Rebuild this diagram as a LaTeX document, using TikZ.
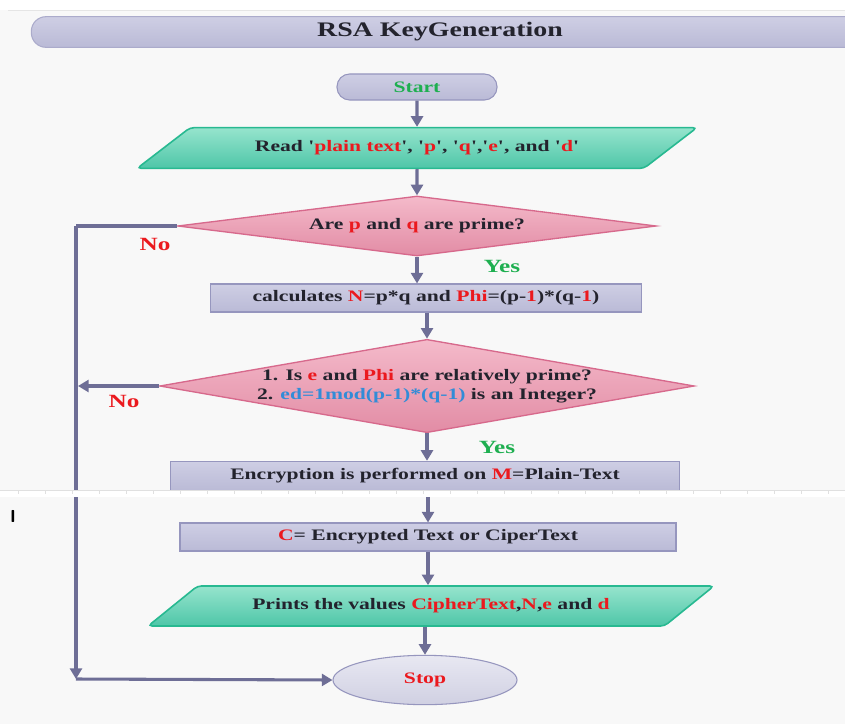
\documentclass[tikz,border=0pt]{standalone}
\usepackage{fontspec}
\setmainfont{Liberation Serif}[FakeStretch=1.35,Ligatures=TeXOff]
\usetikzlibrary{arrows.meta,shapes.geometric}

\definecolor{paper}{RGB}{248,248,248}
\definecolor{flowline}{RGB}{110,110,150}
\definecolor{boxTop}{RGB}{206,206,228}
\definecolor{boxBottom}{RGB}{186,186,214}
\definecolor{boxDraw}{RGB}{150,150,190}
\definecolor{ioTop}{RGB}{150,228,205}
\definecolor{ioBottom}{RGB}{78,198,168}
\definecolor{ioDraw}{RGB}{40,185,145}
\definecolor{decTop}{RGB}{244,186,202}
\definecolor{decBottom}{RGB}{226,140,165}
\definecolor{decDraw}{RGB}{215,105,140}
\definecolor{stopTop}{RGB}{232,232,242}
\definecolor{stopBottom}{RGB}{208,208,226}
\definecolor{txtDark}{RGB}{35,35,45}
\definecolor{txtRed}{RGB}{235,25,30}
\definecolor{txtGreen}{RGB}{30,175,80}
\definecolor{txtBlue}{RGB}{50,140,215}

\newcommand{\rd}[1]{\textcolor{txtRed}{#1}}
\newcommand{\bl}[1]{\textcolor{txtBlue}{#1}}
\newcommand{\boxfont}{\bfseries\fontsize{12}{14}\selectfont}

\tikzset{
  flow/.style={draw=flowline, line width=2.3pt, -{Triangle[length=8pt,width=9pt]}},
  loopline/.style={draw=flowline, line width=2.3pt},
  procbox/.style={rectangle, draw=boxDraw, line width=0.8pt, top color=boxTop, bottom color=boxBottom,
    inner sep=0pt, font=\boxfont, text=txtDark},
  iobox/.style={trapezium, trapezium left angle=21, trapezium right angle=159, trapezium stretches=true,
    draw=ioDraw, line width=1.2pt, top color=ioTop, bottom color=ioBottom, rounded corners=3pt,
    inner sep=0pt, font=\boxfont, text=txtDark},
  decision/.style={diamond, draw=decDraw, line width=1pt, top color=decTop, bottom color=decBottom,
    inner sep=0pt, align=center, font=\boxfont, text=txtDark},
  yesno/.style={font=\bfseries\fontsize{14}{16}\selectfont},
}

\begin{document}
\begin{tikzpicture}[x=0.75pt,y=0.75pt,yscale=-1,xscale=1]
\useasboundingbox (0,0) rectangle (845,724);
%Background
\fill[paper] (0,0) rectangle (845,724);
\fill[white] (0,0) rectangle (845,10);
\draw[black!10] (8,10.5) -- (845,10.5);

%Shape: Title bar
\node[procbox, rounded corners=11pt, minimum width=622pt, minimum height=23pt, draw=boxDraw!80] (title) at (446,32) {};
% Text Node
\node[font=\bfseries\fontsize{15.5}{18}\selectfont, text=txtDark] (titletext) at (440,32) {RSA KeyGeneration};

%Shape: Start
\node[procbox, rounded corners=9.5pt, minimum width=120pt, minimum height=19.5pt, text=txtGreen] (start) at (417,87) {Start};
%Shape: Read input
\node[iobox, minimum width=421pt, minimum height=30.5pt] (read) at (417,148)
  {Read '\rd{plain text}', '\rd{p}', '\rd{q}','\rd{e}', and '\rd{d}'};
%Shape: Prime test
\node[decision, aspect=8, minimum width=359pt, minimum height=45pt] (primes) at (417,226)
  {Are \rd{p} and \rd{q} are prime?};
%Shape: N and Phi
\node[procbox, minimum width=323pt, minimum height=21pt] (calc) at (426,298)
  {calculates \rd{N}=p*q and \rd{Phi}=(p-\rd{1})*(q-\rd{1})};
%Shape: e and d test
\node[decision, aspect=5.7, minimum width=401pt, minimum height=70pt] (keys) at (427,386)
  {1. Is \rd{e} and \rd{Phi} are relatively prime?\\
   2. \bl{ed=1mod(p-1)*(q-1)} is an Integer?};
%Shape: Encryption
\node[procbox, minimum width=382pt, minimum height=22pt] (encrypt) at (425,476)
  {Encryption is performed on \rd{M}=Plain-Text};
%Shape: Cipher
\node[procbox, minimum width=372pt, minimum height=21pt] (cipher) at (428,537)
  {\rd{C}= Encrypted Text or CiperText};
%Shape: Print output
\node[iobox, minimum width=426pt, minimum height=30pt] (prints) at (431,606)
  {Prints the values \rd{CipherText},\rd{N},\rd{e} and \rd{d}};
%Shape: Stop
\node[ellipse, draw=boxDraw, line width=0.8pt, top color=stopTop, bottom color=stopBottom,
  minimum width=138pt, minimum height=37pt, inner sep=0pt, font=\boxfont, text=txtRed] (stop) at (425,680) {Stop};

%Straight Lines
\draw[flow] (start) -- (read);
\draw[flow] (read) -- (primes);
\draw[flow] (primes.south) -- (primes.south |- calc.north);
\draw[flow] (keys.north |- calc.south) -- (keys.north);
\draw[flow] (keys.south) -- (keys.south |- encrypt.north);
\draw[flow] (encrypt.south -| cipher.north) -- (cipher.north);
\draw[flow] (cipher.south) -- (cipher.south |- prints.north);
\draw[flow] (stop.north |- prints.south) -- (stop.north);

%Loop back to Stop
\coordinate (loopTop) at (76,226);
\coordinate (loopBot) at (76,679);
\coordinate (noTip) at (78,386);
\draw[loopline] (primes.west) -- (loopTop);
\draw[flow] (loopTop) -- (loopBot);
\draw[flow] (loopBot) -- (stop.west);
\draw[flow] (keys.west) -- (noTip);

% Text Node
\node[yesno, text=txtRed] (no1) at (155,244) {No};
% Text Node
\node[yesno, text=txtGreen] (yes1) at (502,266) {Yes};
% Text Node
\node[yesno, text=txtRed] (no2) at (124,401) {No};
% Text Node
\node[yesno, text=txtGreen] (yes2) at (497,447) {Yes};

%Seam of the screenshot
\fill[white] (0,489.5) rectangle (845,496.5);
\draw[black!12, line width=0.4pt] (0,490) -- (845,490);
\foreach \x in {18,45,...,845} \draw[black!12, line width=0.4pt] (\x,490) -- (\x,494);
% Text Node
\node[font=\sffamily\bfseries\fontsize{13}{15}\selectfont] (mark) at (13,516) {I};
\end{tikzpicture}
\end{document}
